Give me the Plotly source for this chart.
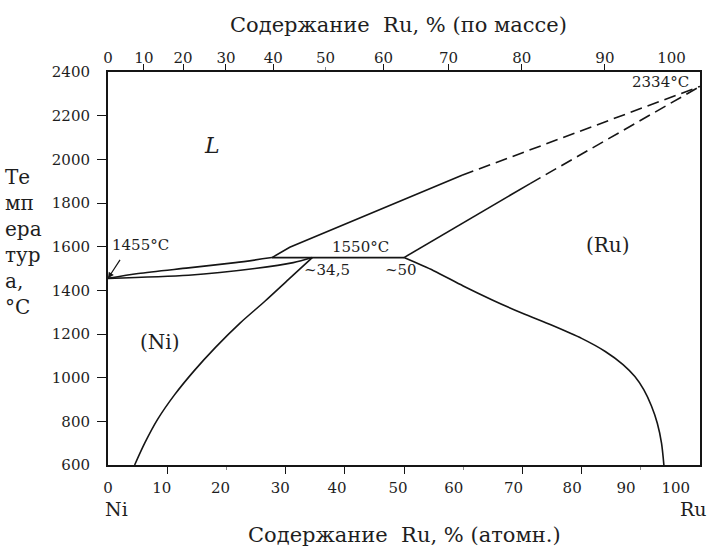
import plotly.graph_objects as go

# ---------------- phase diagram data (Ni–Ru) ----------------
T_NI_MELT = 1455        # °C, melting point of Ni
T_RU_MELT = 2334        # °C, melting point of Ru
T_PERI = 1550           # °C, peritectic
X_PERI_NI = 34.5        # at.% Ru, (Ni) at the peritectic
X_PERI_RU = 50.0        # at.% Ru, (Ru) at the peritectic
X_PERI_LIQ = 27.7       # at.% Ru, liquid at the peritectic

# Ni-rich liquidus / solidus lens
liq_ni_x = [0, 5.1, 13.6, 21.5, X_PERI_LIQ]
liq_ni_t = [T_NI_MELT, 1477, 1503, 1527, T_PERI]
sol_ni_x = [0, 13.6, 24.8, 31.3, X_PERI_NI]
sol_ni_t = [T_NI_MELT, 1469, 1500, 1527, T_PERI]

# liquidus above the peritectic (measured part, then extrapolated)
liq_ru_x = [X_PERI_LIQ, 29.0, 30.7, 59.8]
liq_ru_t = [T_PERI, 1572, 1597, 1927]
liq_ru_ext_x = [59.8, 100]
liq_ru_ext_t = [1927, T_RU_MELT]

# solidus of (Ru) (measured part, then extrapolated)
sol_ru_x = [X_PERI_RU, 71.3]
sol_ru_t = [T_PERI, 1889]
sol_ru_ext_x = [71.3, 100]
sol_ru_ext_t = [1889, T_RU_MELT]

# solvus of (Ni)
solv_ni_x = [X_PERI_NI, 30.5, 26.5, 22.3, 18.2, 14.5, 11.2, 8.4, 6.2, 4.5]
solv_ni_t = [T_PERI, 1450, 1350, 1250, 1140, 1030, 920, 810, 700, 600]

# solvus of (Ru)
solv_ru_x = [X_PERI_RU, 55, 60, 65, 70, 75, 80, 84, 87, 89, 90.5, 91.8, 92.8, 93.5, 93.9]
solv_ru_t = [T_PERI, 1490, 1420, 1355, 1295, 1240, 1180, 1120, 1060, 1005, 945, 870, 790, 700, 600]

# ---------------- axes ----------------
at_ticks = [10, 30, 40, 50, 70, 80]
at_minor = [20, 60, 90]
at_labels = ["0", "10", "20", "30", "40", "50", "60", "70", "80", "90", "100"]
at_label_pos = [0, 9.1, 19.0, 29.1, 38.7, 49.0, 58.4, 68.5, 78.4, 87.5, 95.9]

wt_values = [10, 20, 30, 40, 60, 70, 80, 90]
wt_minor_values = [50]
wt_labels = ["0", "10", "20", "30", "40", "50", "60", "70", "80", "90", "100"]

t_ticks = [800, 1000, 1200, 1400, 1600, 1800, 2000, 2200]
t_labels = [600, 800, 1000, 1200, 1400, 1600, 1800, 2000, 2200, 2400]

M_NI, M_RU = 58.69, 101.07


def wt_to_at(w):
    """Convert wt.% Ru to at.% Ru."""
    if w >= 100:
        return 100.0
    a = w / M_RU
    b = (100 - w) / M_NI
    return 100 * a / (a + b)


wt_tick_pos = [wt_to_at(w) for w in wt_values]
wt_minor_pos = [wt_to_at(w) for w in wt_minor_values]
# the "100" label is kept inside the right edge of the frame
wt_label_pos = [wt_to_at(w) for w in range(0, 100, 10)] + [95.2]

LINE = "#151515"
TXT = "#1e1e1e"
FONT = "DejaVu Serif"

fig = go.Figure()


def curve(x, y, dash="solid", shape="linear"):
    fig.add_trace(go.Scatter(
        x=x, y=y, mode="lines", hoverinfo="skip", showlegend=False,
        line=dict(color=LINE, width=1.6, dash=dash, shape=shape, smoothing=0.8),
    ))


curve(liq_ni_x, liq_ni_t, shape="spline")
curve(sol_ni_x, sol_ni_t, shape="spline")
curve([X_PERI_LIQ, X_PERI_RU], [T_PERI, T_PERI])
curve(liq_ru_x, liq_ru_t)
curve(liq_ru_ext_x, liq_ru_ext_t, dash="12px,6px")
curve(sol_ru_x, sol_ru_t)
curve(sol_ru_ext_x, sol_ru_ext_t, dash="12px,6px")
curve(solv_ni_x, solv_ni_t, shape="spline")
curve(solv_ru_x, solv_ru_t, shape="spline")

# empty traces so the extra tick/label axes are laid out
for xa, ya in [("x2", "y"), ("x3", "y"), ("x4", "y"), ("x", "y2")]:
    fig.add_trace(go.Scatter(x=[None], y=[None], xaxis=xa, yaxis=ya,
                             mode="lines", showlegend=False, hoverinfo="skip"))

tick_font = dict(family=FONT, size=15, color=TXT)
base = dict(range=[0, 100], showgrid=False, zeroline=False, fixedrange=True)

fig.update_layout(
    width=713, height=554,
    margin=dict(l=108, r=11, t=72, b=89),
    paper_bgcolor="white", plot_bgcolor="white",
    showlegend=False,
    font=dict(family=FONT, color=TXT),
    xaxis=dict(**base, showline=True, linecolor=LINE, linewidth=1.6,
               tickmode="array", tickvals=at_ticks, ticks="outside",
               ticklen=7, tickwidth=1.4, tickcolor=LINE, showticklabels=False,
               minor=dict(tickvals=at_minor, ticks="outside", ticklen=3,
                          tickwidth=1, tickcolor="#888")),
    xaxis2=dict(**base, overlaying="x", anchor="y", side="bottom",
                showline=False, tickmode="array", tickvals=at_label_pos,
                ticktext=at_labels, ticks="outside", ticklen=9,
                tickcolor="rgba(0,0,0,0)", tickfont=tick_font),
    xaxis3=dict(**base, overlaying="x", anchor="y", side="top",
                showline=True, linecolor=LINE, linewidth=1.6,
                tickmode="array", tickvals=wt_tick_pos, ticks="outside",
                ticklen=6, tickwidth=1.4, tickcolor=LINE, showticklabels=False,
                minor=dict(tickvals=wt_minor_pos, ticks="outside", ticklen=3,
                           tickwidth=1, tickcolor="#888")),
    xaxis4=dict(**base, overlaying="x", anchor="y", side="top",
                showline=False, tickmode="array", tickvals=wt_label_pos,
                ticktext=wt_labels, ticks="outside", ticklen=2,
                tickcolor="rgba(0,0,0,0)", tickfont=tick_font),
    yaxis=dict(range=[600, 2400], showgrid=False, zeroline=False, fixedrange=True,
               showline=True, mirror=True, linecolor=LINE, linewidth=1.6,
               tickmode="array", tickvals=t_ticks, ticks="outside", ticklen=9,
               tickwidth=1.4, tickcolor=LINE, showticklabels=False),
    yaxis2=dict(range=[600, 2400], overlaying="y", anchor="x", side="left",
                showgrid=False, zeroline=False, fixedrange=True, showline=False,
                tickmode="array", tickvals=t_labels,
                ticktext=[str(v) for v in t_labels], ticks="outside",
                ticklen=14, tickcolor="rgba(0,0,0,0)", tickfont=tick_font),
)


def note(text, x, y, size=15, xanchor="center", italic=False, xref="x", yref="y"):
    fig.add_annotation(
        text=f"<i>{text}</i>" if italic else text,
        x=x, y=y, xref=xref, yref=yref, xanchor=xanchor, yanchor="middle",
        showarrow=False, font=dict(family=FONT, size=size, color=TXT),
    )


# axis titles
note("Содержание  Ru, % (по массе)", 0.49, 1.12, size=21, xref="paper", yref="paper")
note("Содержание  Ru, % (атомн.)", 0.50, -0.178, size=21, xref="paper", yref="paper")
fig.add_annotation(
    text="Те<br>мп<br>ера<br>тур<br>а,<br>°С", x=-0.177, y=0.568,
    xref="paper", yref="paper", xanchor="left", yanchor="middle", align="left",
    showarrow=False, font=dict(family=FONT, size=20, color=TXT),
)
note("Ni", -0.008, -0.112, size=19, xanchor="left", xref="paper", yref="paper")
note("Ru", 1.015, -0.112, size=19, xanchor="right", xref="paper", yref="paper")

# field and point labels
note("L", 17.6, 2064, size=22, italic=True)
note("(Ni)", 8.8, 1162, size=20)
note("(Ru)", 84.5, 1607, size=20)
note(f"{T_RU_MELT}°C", 93.4, 2354, size=15)
note(f"{T_PERI}°C", 42.7, 1600, size=15)
note(f"~{X_PERI_NI:.1f}".replace(".", ","), 37.0, 1492, size=15)
note(f"~{X_PERI_RU:.0f}", 49.5, 1494, size=15)
note(f"{T_NI_MELT}°C", 0.3, 1609, size=15, xanchor="left")
fig.add_annotation(
    x=0, y=T_NI_MELT, xref="x", yref="y", text="", showarrow=True,
    ax=13, ay=-20, arrowhead=2, arrowsize=1, arrowwidth=1.2, arrowcolor=LINE,
)

fig.write_html("out.html")
